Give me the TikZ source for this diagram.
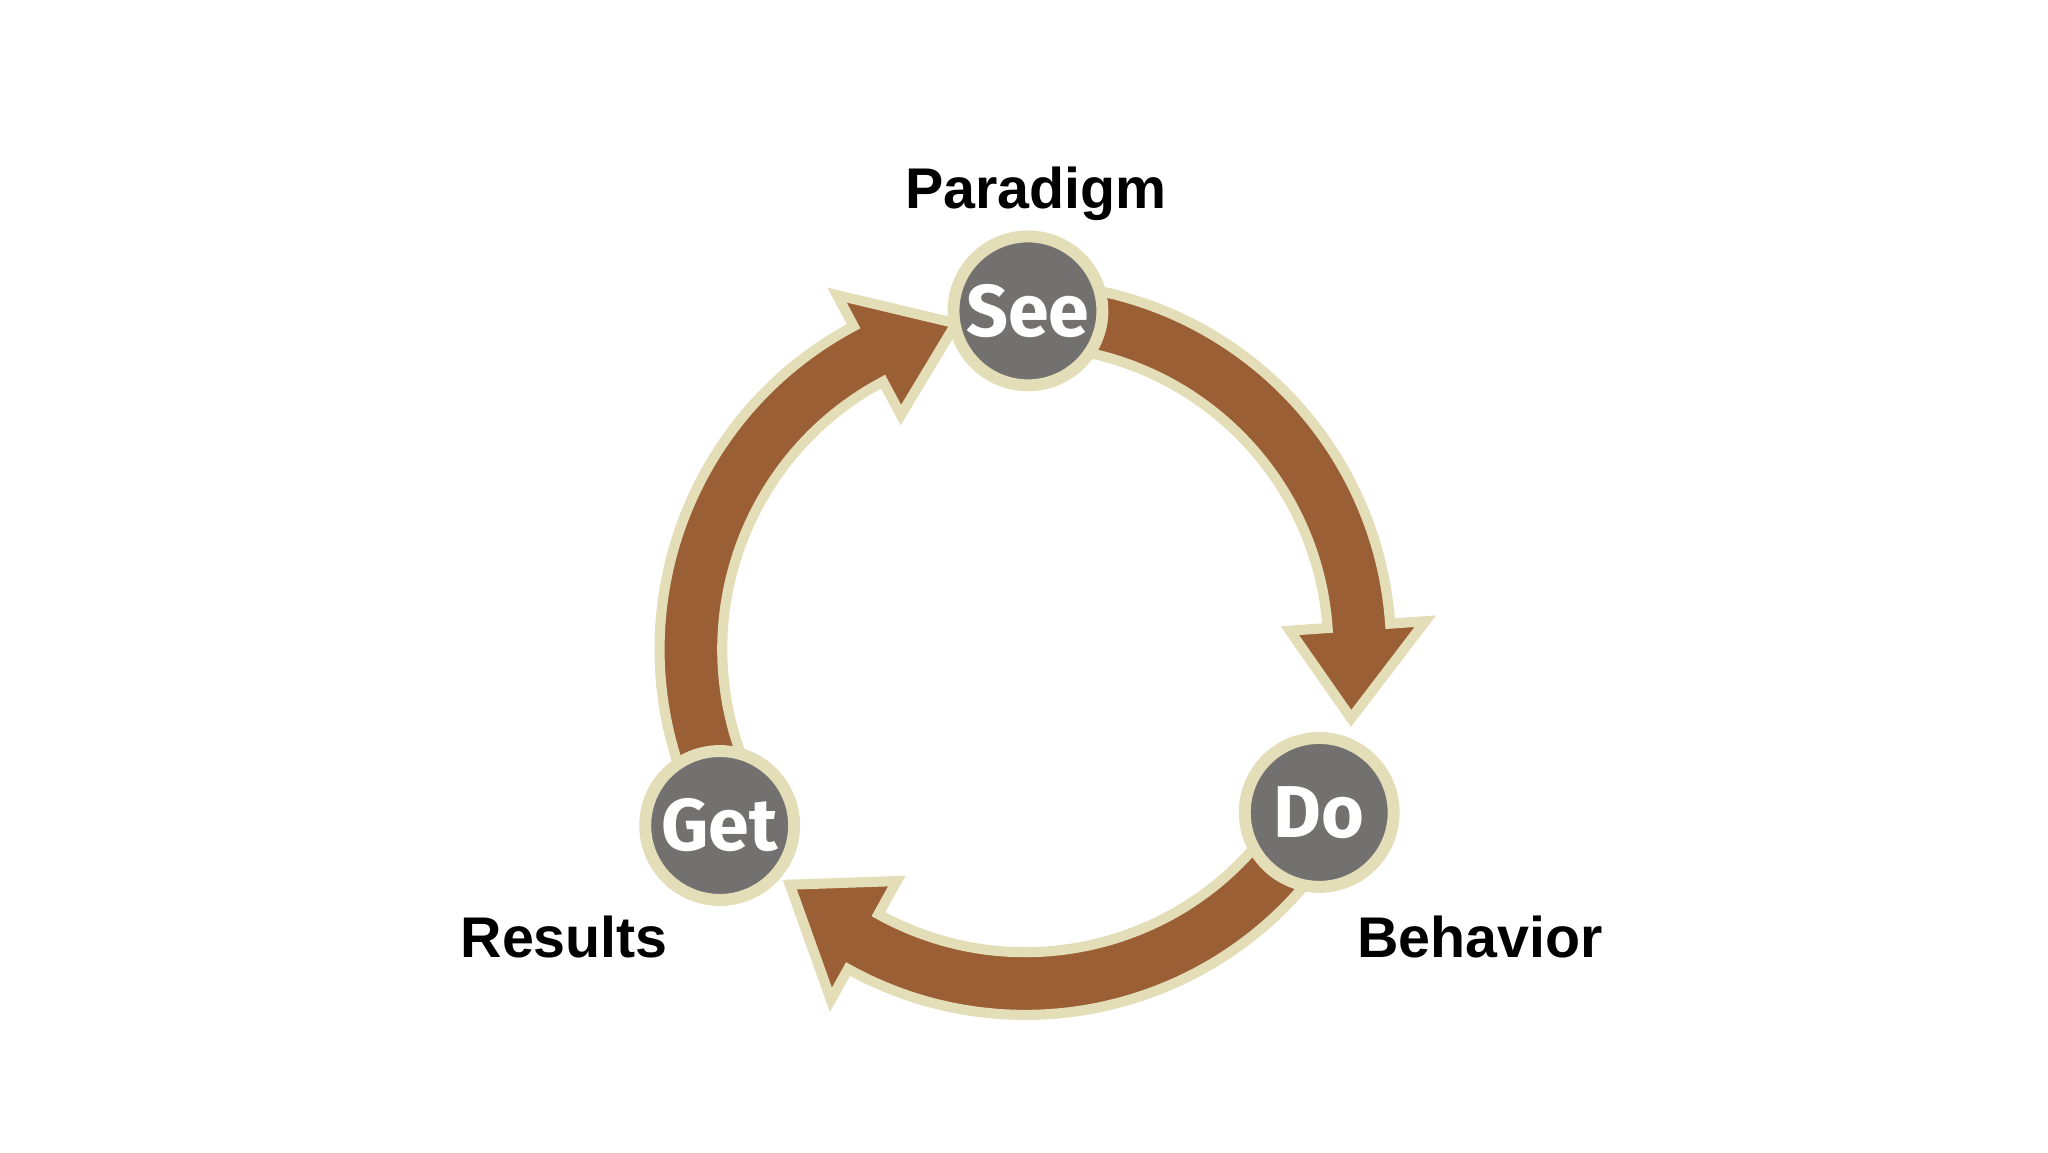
\documentclass[tikz,border=0pt]{standalone}
\usepackage{fontspec}
\setmainfont{Liberation Sans}
\newfontfamily\circfont{Fira Sans}
\definecolor{brownarr}{HTML}{9A5F35}
\definecolor{creamline}{HTML}{E3DDB8}
\definecolor{graycirc}{HTML}{737070}
\begin{document}
\begin{tikzpicture}
\useasboundingbox (0,0) rectangle (15.68,8.82);
\tikzset{
  band/.style={fill=brownarr,draw=creamline,line width=2.2pt,line join=miter},
  stage/.style={circle,fill=graycirc,draw=creamline,line width=2.6pt,minimum size=1.14cm,inner sep=0pt,text=white,font=\circfont\bfseries\fontsize{16}{16}\selectfont},
  caption/.style={font=\bfseries\fontsize{12.5}{12.5}\selectfont}
}
\begin{scope}[shift={(7.85,3.85)}]
\draw[band] (78:2.80) arc[start angle=78,end angle=4,radius=2.80] -- (4:3.07) -- (-12:2.55) -- (4:2.03) -- (4:2.32) arc[start angle=4,end angle=78,radius=2.32] -- cycle;
\draw[band] (-36:2.80) arc[start angle=-36,end angle=-119,radius=2.80] -- (-119:3.07) -- (-135:2.55) -- (-119:2.03) -- (-119:2.32) arc[start angle=-119,end angle=-36,radius=2.32] -- cycle;
\draw[band] (205:2.80) arc[start angle=205,end angle=118,radius=2.80] -- (118:3.07) -- (102:2.55) -- (118:2.03) -- (118:2.32) arc[start angle=118,end angle=205,radius=2.32] -- cycle;
\end{scope}
\node[stage] (see) at (7.87,6.44) {See};
\node[stage] (do) at (10.10,2.60) {Do};
\node[stage] (get) at (5.51,2.50) {Get};
\node[caption] (paradigm) at (7.93,7.34) {Paradigm};
\node[caption] (results) at (4.32,1.65) {Results};
\node[caption] (behavior) at (11.33,1.65) {Behavior};
\end{tikzpicture}
\end{document}
